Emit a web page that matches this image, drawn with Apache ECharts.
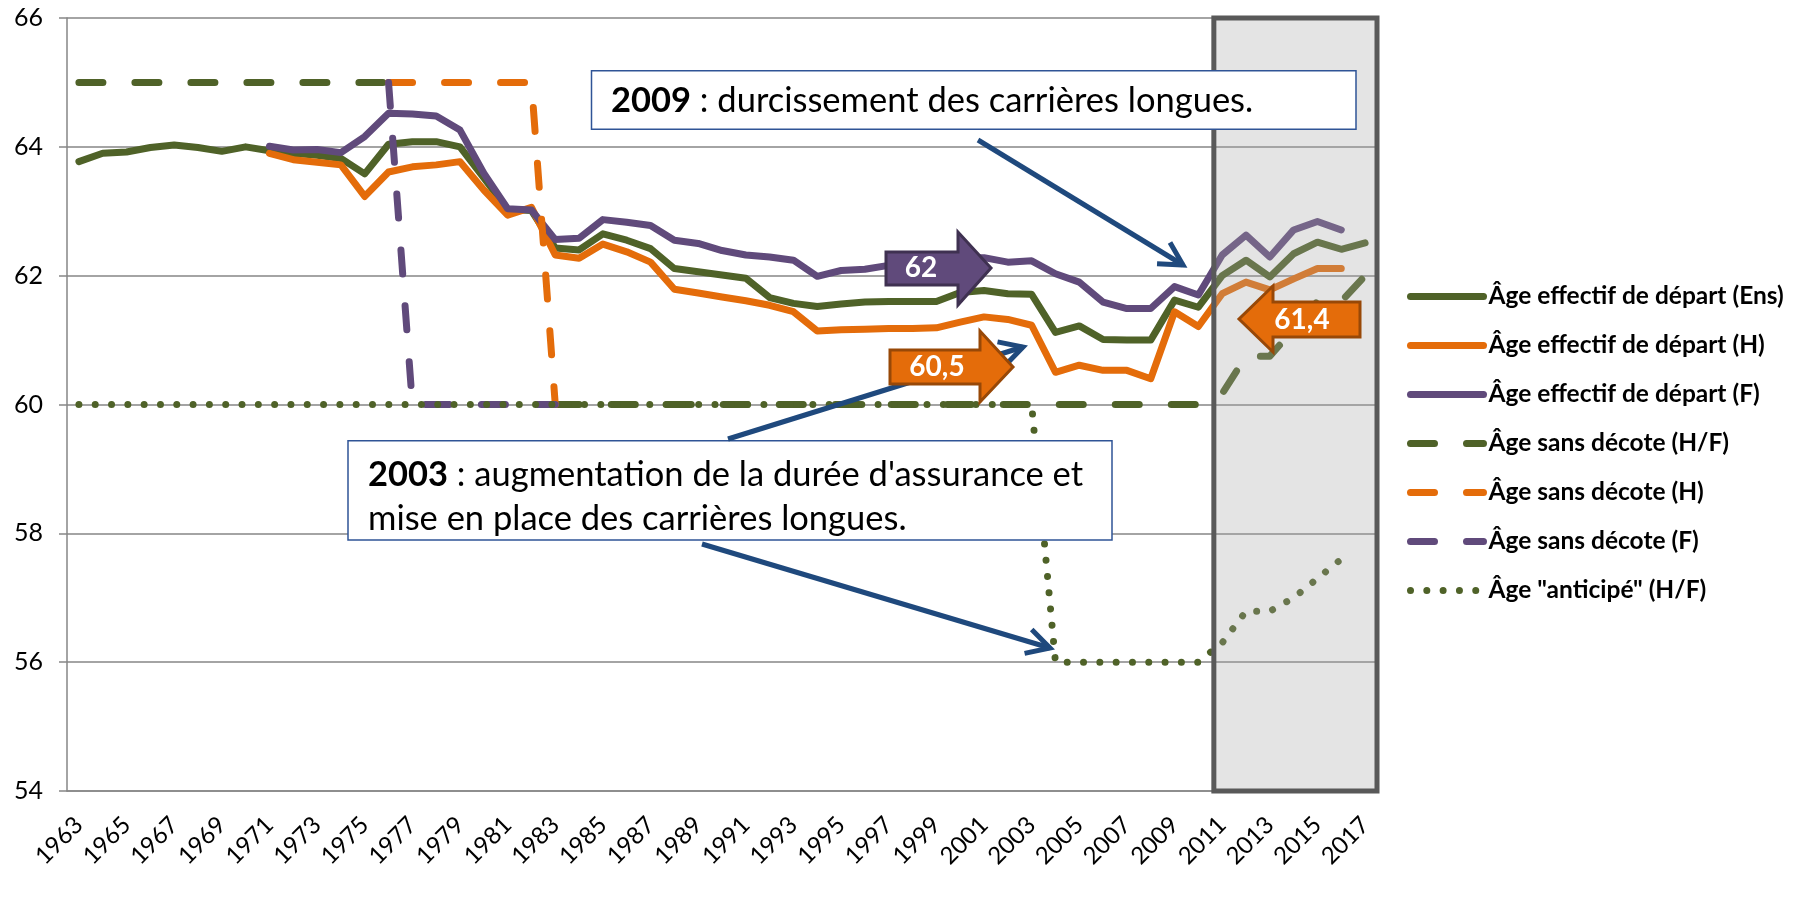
<!DOCTYPE html>
<html>
<head>
<meta charset="utf-8">
<title>Âge de départ à la retraite</title>
<script src="https://cdn.jsdelivr.net/npm/echarts@6/dist/echarts.min.js"></script>
<style>
  html, body { margin: 0; padding: 0; background: #fff; }
  #main { width: 1804px; height: 897px; }
</style>
</head>
<body>
<div id="main"></div>
<script>
const years = [
  '1963', '1964', '1965', '1966', '1967', '1968', '1969', '1970', '1971', '1972',
  '1973', '1974', '1975', '1976', '1977', '1978', '1979', '1980', '1981', '1982',
  '1983', '1984', '1985', '1986', '1987', '1988', '1989', '1990', '1991', '1992',
  '1993', '1994', '1995', '1996', '1997', '1998', '1999', '2000', '2001', '2002',
  '2003', '2004', '2005', '2006', '2007', '2008', '2009', '2010', '2011', '2012',
  '2013', '2014', '2015', '2016', '2017'
];

// âge effectif de départ
const effEns = [
  63.77, 63.90, 63.92, 63.99, 64.03, 63.99, 63.93, 64.00, 63.94, 63.90,
  63.87, 63.82, 63.58, 64.04, 64.08, 64.08, 64.00, 63.52, 63.03, 63.01,
  62.43, 62.40, 62.65, 62.55, 62.42, 62.11, 62.06, 62.01, 61.96, 61.66,
  61.57, 61.52, 61.56, 61.59, 61.60, 61.60, 61.60, 61.74, 61.77, 61.72,
  61.71, 61.12, 61.22, 61.01, 61.00, 61.00, 61.62, 61.51, 62.00, 62.24,
  61.98, 62.34, 62.52, 62.41, 62.51
];
const effH = [
  null, null, null, null, null, null, null, null, 63.90, 63.80,
  63.76, 63.72, 63.23, 63.61, 63.69, 63.72, 63.77, 63.33, 62.94, 63.06,
  62.32, 62.27, 62.49, 62.37, 62.21, 61.79, 61.73, 61.67, 61.61, 61.54,
  61.44, 61.14, 61.16, 61.17, 61.18, 61.18, 61.19, 61.28, 61.36, 61.32,
  61.23, 60.50, 60.61, 60.53, 60.53, 60.40, 61.44, 61.21, 61.72, 61.90,
  61.78, 61.95, 62.11, 62.11, null
];
const effF = [
  null, null, null, null, null, null, null, null, 64.01, 63.95,
  63.96, 63.91, 64.16, 64.52, 64.51, 64.48, 64.26, 63.59, 63.04, 63.02,
  62.56, 62.58, 62.87, 62.83, 62.78, 62.55, 62.50, 62.39, 62.32, 62.29,
  62.24, 61.99, 62.08, 62.10, 62.16, 62.20, 62.24, 62.28, 62.28, 62.21,
  62.23, 62.03, 61.90, 61.59, 61.49, 61.49, 61.83, 61.70, 62.32, 62.63,
  62.29, 62.71, 62.84, 62.71, null
];

// âge sans décote / âge anticipé
const sansDecoteHF = [
  65, 65, 65, 65, 65, 65, 65, 65, 65, 65,
  65, 65, 65, 65, null, null, null, null, null, null,
  60, 60, 60, 60, 60, 60, 60, 60, 60, 60,
  60, 60, 60, 60, 60, 60, 60, 60, 60, 60,
  60, 60, 60, 60, 60, 60, 60, 60, 60.17, 60.75,
  60.75, 61.17, 61.60, 61.60, 62.00
];
const sansDecoteH = [
  null, null, null, null, null, null, null, null, null, null,
  null, null, null, 65, 65, 65, 65, 65, 65, 65,
  60
];
const sansDecoteF = [
  null, null, null, null, null, null, null, null, null, null,
  null, null, null, 65, 60, 60, 60, 60, 60, 60,
  60
];
const anticipe = [
  60, 60, 60, 60, 60, 60, 60, 60, 60, 60,
  60, 60, 60, 60, 60, 60, 60, 60, 60, 60,
  60, 60, 60, 60, 60, 60, 60, 60, 60, 60,
  60, 60, 60, 60, 60, 60, 60, 60, 60, 60,
  60, 56, 56, 56, 56, 56, 56, 56, 56.30, 56.79,
  56.79, 57.00, 57.30, 57.60
];

// période de projection (grisée)
const projection = [2010.65, 2017.5];

const GREEN = '#4f6228';
const ORANGE = '#e46c0a';
const PURPLE = '#604a7b';
const GRID_GREY = '#868686';
const NAVY = '#1f497d';
const FONT = 'Lato, "Open Sans", sans-serif';

const DASH = [24, 32];
const DOT = [0.01, 16.3];

function lineSerie(name, data, color, type) {
  return {
    name: name,
    type: 'line',
    data: data,
    symbol: 'none',
    connectNulls: false,
    itemStyle: { color: color },
    lineStyle: { color: color, width: 7, type: type, cap: 'round', join: 'round' },
    emphasis: { disabled: true }
  };
}

const names = [
  'Âge effectif de départ (Ens)',
  'Âge effectif de départ (H)',
  'Âge effectif de départ (F)',
  'Âge sans décote (H/F)',
  'Âge sans décote (H)',
  'Âge sans décote (F)',
  'Âge "anticipé" (H/F)'
];

// flèche simple avec pointe ouverte
function arrow(x1, y1, x2, y2) {
  const a = Math.atan2(y1 - y2, x1 - x2);
  const len = 26, spread = 0.5;
  return [
    { type: 'line', z: 100, shape: { x1: x1, y1: y1, x2: x2, y2: y2 },
      style: { stroke: NAVY, lineWidth: 5 } },
    { type: 'polyline', z: 100,
      shape: { points: [
        [x2 + len * Math.cos(a - spread), y2 + len * Math.sin(a - spread)],
        [x2, y2],
        [x2 + len * Math.cos(a + spread), y2 + len * Math.sin(a + spread)]
      ] },
      style: { stroke: NAVY, lineWidth: 5, fill: null, lineJoin: 'miter' } }
  ];
}

function blockArrow(points, fill, stroke, label, cx, cy) {
  return [
    { type: 'polygon', z: 101, shape: { points: points },
      style: { fill: fill, stroke: stroke, lineWidth: 3, lineJoin: 'miter' } },
    { type: 'text', z: 102, x: cx, y: cy,
      style: { text: label, fill: '#fff', font: 'bold 28px ' + FONT, align: 'center', verticalAlign: 'middle' } }
  ];
}

const chart = echarts.init(document.getElementById('main'));

chart.setOption({
  animation: false,
  backgroundColor: '#fff',
  grid: { left: 67, right: 427, top: 18, bottom: 106 },
  xAxis: [
    {
      type: 'category',
      data: years,
      boundaryGap: true,
      axisLine: { lineStyle: { color: GRID_GREY, width: 1.5 } },
      axisTick: { interval: 0, length: 8, lineStyle: { color: GRID_GREY, width: 1.5 } },
      axisLabel: { interval: 1, rotate: 45, margin: 30, fontSize: 24, color: '#000', fontFamily: FONT },
      splitLine: { show: false }
    },
    { type: 'value', min: 1962.5, max: 2017.5, show: false }
  ],
  yAxis: {
    type: 'value',
    min: 54,
    max: 66,
    interval: 2,
    axisLine: { show: true, lineStyle: { color: GRID_GREY, width: 1.5 } },
    axisTick: { show: true, length: 8, lineStyle: { color: GRID_GREY, width: 1.5 } },
    axisLabel: { margin: 24, fontSize: 25, color: '#000', fontFamily: FONT },
    splitLine: { lineStyle: { color: GRID_GREY, width: 1.5 } }
  },
  legend: {
    orient: 'vertical',
    left: 1407,
    top: 284,
    padding: 0,
    itemWidth: 73,
    itemHeight: 14,
    itemGap: 24,
    data: names,
    itemStyle: { opacity: 0 },
    lineStyle: { width: 'inherit' },
    textStyle: { fontFamily: FONT, fontSize: 24.5, lineHeight: 24, fontWeight: 'bold', color: '#000' }
  },
  series: [
    lineSerie(names[0], effEns, GREEN, 'solid'),
    lineSerie(names[1], effH, ORANGE, 'solid'),
    lineSerie(names[2], effF, PURPLE, 'solid'),
    lineSerie(names[3], sansDecoteHF, GREEN, DASH),
    lineSerie(names[4], sansDecoteH, ORANGE, DASH),
    lineSerie(names[5], sansDecoteF, PURPLE, DASH),
    lineSerie(names[6], anticipe, GREEN, DOT),
    {
      type: 'line',
      xAxisIndex: 1,
      data: [],
      silent: true,
      markArea: {
        z: 5,
        silent: true,
        label: { show: false },
        itemStyle: { color: 'rgba(164,164,164,0.3)', borderColor: '#595959', borderWidth: 5 },
        data: [[{ xAxis: projection[0], yAxis: 54 }, { xAxis: projection[1], yAxis: 66 }]]
      }
    }
  ],
  graphic: [
    // encadré 2009
    { type: 'rect', z: 100, shape: { x: 591.5, y: 70.7, width: 764.5, height: 58.6 },
      style: { fill: '#fff', stroke: '#2f5496', lineWidth: 1.5 } },
    { type: 'text', z: 101, x: 611, y: 101,
      style: {
        text: '{b|2009} : durcissement des carrières longues.',
        font: '34.5px ' + FONT, fill: '#000', verticalAlign: 'middle',
        rich: { b: { fontWeight: 'bold', fontSize: 34.5, fontFamily: FONT, fill: '#000' } }
      } },
    // encadré 2003
    { type: 'rect', z: 100, shape: { x: 348, y: 440.7, width: 764, height: 99.3 },
      style: { fill: '#fff', stroke: '#2f5496', lineWidth: 1.5 } },
    { type: 'text', z: 101, x: 368, y: 497,
      style: {
        text: '{b|2003} : augmentation de la durée d\'assurance et\nmise en place des carrières longues.',
        font: '34.5px ' + FONT, fill: '#000', verticalAlign: 'middle', lineHeight: 44,
        rich: { b: { fontWeight: 'bold', fontSize: 34.5, fontFamily: FONT, fill: '#000', lineHeight: 44 } }
      } },
    ...arrow(978, 140, 1183, 265),
    ...arrow(728, 439, 1023, 347),
    ...arrow(702, 544, 1050, 648),
    ...blockArrow([[886, 252], [958, 252], [958, 232], [991, 268], [958, 305], [958, 285], [886, 285]],
      PURPLE, '#3f3151', '62', 921, 268),
    ...blockArrow([[890, 350], [980, 350], [980, 331], [1013, 367], [980, 402], [980, 384], [890, 384]],
      ORANGE, '#984807', '60,5', 937, 367),
    ...blockArrow([[1360, 302], [1273, 302], [1273, 286], [1239, 319], [1273, 352], [1273, 337], [1360, 337]],
      ORANGE, '#984807', '61,4', 1302, 320)
  ]
});
</script>
</body>
</html>
